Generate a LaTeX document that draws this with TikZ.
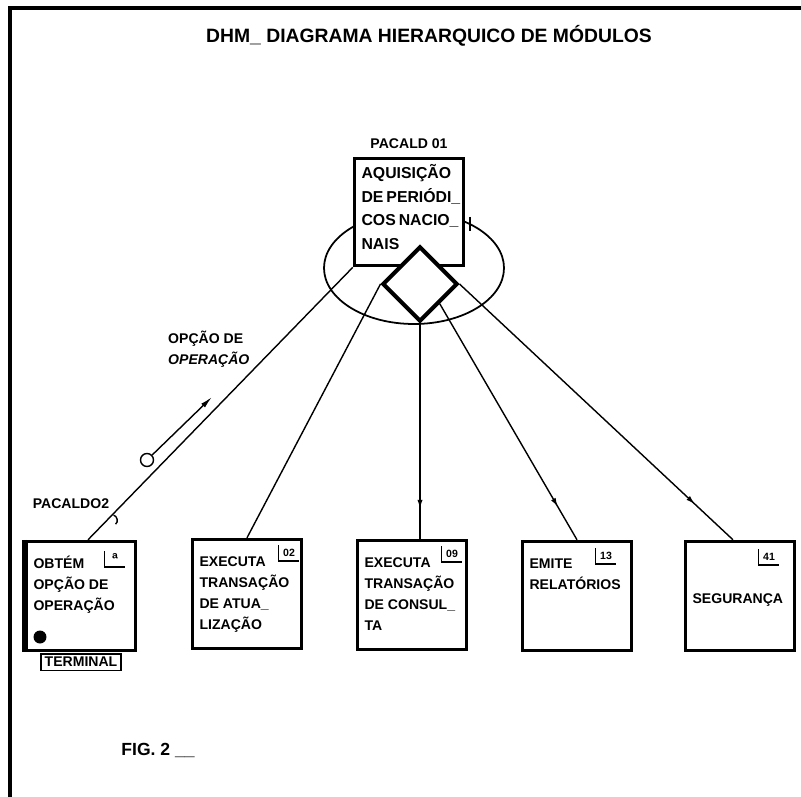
\documentclass[tikz,border=0pt]{standalone}
\usepackage{fontspec}
\setmainfont{Liberation Sans}
\usetikzlibrary{arrows.meta,positioning,shapes.geometric,decorations.markings}

\newcommand{\modtext}[1]{\parbox[c][48pt][t]{54pt}{\hyphenpenalty=10000\raggedright\strut#1}}
\newcommand{\toptext}[1]{\parbox[c][57pt][t]{54pt}{\hyphenpenalty=10000\fontsize{9}{13.5}\selectfont\raggedright\strut#1}}

\begin{document}
\begin{tikzpicture}[x=0.02cm, y=-0.02cm, >=Latex,
	font=\bfseries\fontsize{8}{12}\selectfont]
	
	\tikzstyle{modbox}=[draw, line width=2pt, fill=white, inner xsep=4pt, inner ysep=7pt]
	\tikzstyle{topbox}=[draw, line width=2pt, fill=white, inner xsep=4pt, inner ysep=2pt]
	\tikzstyle{numlab}=[font=\bfseries\fontsize{6}{6}\selectfont, inner sep=1pt,
	minimum width=0.4cm, minimum height=0.3cm]
	\tikzstyle{link}=[line width=0.8pt]
	\tikzstyle{flowmark}=[postaction={decorate}, decoration={markings,
		mark=at position 0.86 with {\arrow{Latex[length=5pt,width=3pt]}}}]
	
	\useasboundingbox (0,0) rectangle (801,797);
	
	% Frame
	\draw[line width=2pt] (10,797) -- (10,8) -- (801,8);
	
	% Title
	\node[font=\bfseries\fontsize{11}{13}\selectfont] (title) at (429,36)
	{DHM\_ DIAGRAMA HIERARQUICO DE MÓDULOS};
	
	% Loop round the top module
	\draw[line width=1pt] (414,268) ellipse [x radius=90, y radius=56];
	\draw[thick] (470,217) -- (470,231);
	
	% Top module and decision
	\node[topbox] (top) at (409,212)
	{\toptext{AQUISIÇÃO\\DE~PERIÓDI\_\\COS~NACIO\_\\NAIS}};
	\node[above=1pt of top] (pc1) {PACALD 01};
	\node[diamond, aspect=1, draw, line width=2.3pt, fill=white,
	minimum size=1.5cm, inner sep=0pt] (dec) at (420,284) {};
	
	% Modules
	\node[modbox] (m1) at (81,596) {\modtext{OBTÉM\\OPÇÃO~DE\\OPERAÇÃO}};
	\node[modbox] (m2) at (247,594) {\modtext{EXECUTA\\TRANSAÇÃO\\DE~ATUA\_\\LIZAÇÃO}};
	\node[modbox] (m3) at (412,595) {\modtext{EXECUTA\\TRANSAÇÃO\\DE~CONSUL\_\\TA}};
	\node[modbox] (m4) at (577,596) {\modtext{EMITE\\RELATÓRIOS}};
	\node[modbox] (m5) at (740,596) {\modtext{\\[8pt]SEGURANÇA}};
	\draw[line width=3pt] (m1.north west) -- (m1.south west);
	
	% Module numbers
	\node[numlab, font=\bfseries\fontsize{9}{9}\selectfont] (n1) at (115,559) {ª};
	\node[numlab] (n2) at (289,553) {02};
	\node[numlab] (n3) at (452,554) {09};
	\node[numlab] (n4) at (606,556) {13};
	\node[numlab] (n5) at (769,557) {41};
	\foreach \n in {n1,n2,n3,n4,n5}
	\draw[thick] (\n.north west) |- (\n.south east);
	
	% Terminal mark
	\node[circle, fill, inner sep=0pt, minimum size=0.26cm] (dot1) at (40,637) {};
	\node[draw, thick, inner sep=2pt, below=0.5pt of m1] (trm) {TERMINAL};
	
	% Connectors
	\draw[link] (top.south west) -- ([xshift=4pt]m1.north);
	\draw[link] (dec.west) -- (m2.north);
	\draw[link, flowmark] (dec.south) -- (dec.south |- m3.north);
	\draw[link, flowmark] (dec.south east) -- (m4.north);
	\draw[link, flowmark] (dec.east) -- ([xshift=-4pt]m5.north);
	
	% Name of the called module
	\node (pc2) at (71,504) {PACALDO2};
	\draw[thick] ([xshift=-1pt]pc2.south east) to[bend left=70] +(2,9);
	
	% Data couple
	\node[align=left, anchor=north west] (opt) at (162,325)
	{OPÇÃO DE\\\textit{OPERAÇÃO}};
	\node[circle, draw, thick, inner sep=0pt, minimum size=0.26cm] (dc) at (147,460) {};
	\coordinate (dctip) at (212,397);
	\draw[thick, -{Latex[length=7pt,width=3pt]}] (dc) -- (dctip);
	
	% Caption
	\node[font=\bfseries\fontsize{10}{12}\selectfont] (fig) at (158,750) {FIG. 2 \_\_};
	
\end{tikzpicture}
\end{document}
